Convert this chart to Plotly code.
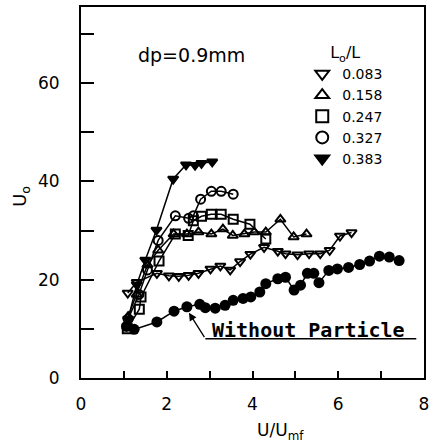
import plotly.graph_objects as go

# ---- data ----
x_083 = [1.09, 1.3, 1.77, 2.05, 2.28, 2.51, 2.74, 3.02, 3.25, 3.48, 3.71, 3.95, 4.27, 4.59, 4.77, 5.05, 5.32, 5.58, 5.8, 6.04, 6.31]
y_083 = [17.3, 19.5, 21.3, 20.8, 20.7, 20.9, 21.3, 22.2, 22.8, 22.0, 23.7, 25.2, 26.6, 25.8, 25.3, 25.1, 25.3, 25.3, 26.0, 28.9, 29.6]

x_158 = [1.1, 1.3, 1.55, 1.8, 2.16, 2.47, 2.74, 3.04, 3.31, 3.54, 3.81, 4.04, 4.31, 4.65, 4.96, 5.26]
y_158 = [12.5, 17.0, 23.0, 26.0, 29.3, 29.3, 29.7, 29.3, 30.3, 29.0, 29.3, 29.7, 29.7, 32.3, 28.7, 29.3]

x_247 = [1.08, 1.36, 1.4, 1.82, 2.2, 2.5, 2.62, 2.81, 3.04, 3.27, 3.55, 3.94, 4.31]
y_247 = [10.0, 14.0, 16.5, 23.8, 29.3, 29.0, 32.0, 32.9, 33.3, 33.3, 32.3, 31.3, 28.3]

x_327 = [1.1, 1.35, 1.55, 1.8, 2.2, 2.51, 2.62, 2.79, 3.04, 3.27, 3.55]
y_327 = [12.0, 17.0, 22.0, 28.0, 33.0, 32.5, 33.0, 36.4, 38.0, 38.0, 37.4]

x_383 = [1.1, 1.3, 1.5, 1.76, 2.15, 2.45, 2.66, 2.81, 3.06]
y_383 = [12.0, 19.0, 24.0, 30.1, 40.5, 43.4, 43.3, 43.7, 44.0]

x_none = [1.06, 1.24, 1.77, 2.17, 2.47, 2.77, 2.9, 3.13, 3.36, 3.55, 3.78, 3.96, 4.17, 4.31, 4.59, 4.77,
          4.97, 5.12, 5.28, 5.43, 5.55, 5.78, 5.98, 6.24, 6.5, 6.73, 6.96, 7.19, 7.42]
y_none = [10.5, 9.9, 11.4, 13.6, 14.5, 15.0, 14.3, 14.2, 14.8, 15.8, 16.2, 16.5, 17.5, 19.2, 20.2, 20.5,
          17.9, 18.9, 21.3, 21.3, 19.4, 21.9, 22.2, 22.5, 23.1, 23.8, 24.8, 24.6, 23.9]

series = [
    ("0.083", x_083, y_083, "triangle-down-open"),
    ("0.158", x_158, y_158, "triangle-up-open"),
    ("0.247", x_247, y_247, "square-open"),
    ("0.327", x_327, y_327, "circle-open"),
    ("0.383", x_383, y_383, "triangle-down"),
]

x_ticks = [0, 1, 2, 3, 4, 5, 6, 7, 8]
x_ticktext = ["0", "", "2", "", "4", "", "6", "", "8"]
y_ticks = [0, 10, 20, 30, 40, 50, 60, 70]
y_ticktext = ["0", "", "20", "", "40", "", "60", ""]

FONT = "DejaVu Sans"
fig = go.Figure()

fig.add_trace(go.Scatter(x=x_none, y=y_none, mode="lines+markers", showlegend=False,
                         line=dict(color="black", width=1.5),
                         marker=dict(symbol="circle", size=11, color="black")))

for name, xs, ys, sym in series:
    fig.add_trace(go.Scatter(x=xs, y=ys, mode="lines", showlegend=False,
                             line=dict(color="black", width=1.5), hoverinfo="skip"))
    fig.add_trace(go.Scatter(x=xs, y=ys, mode="markers", name=name,
                             marker=dict(symbol=sym, size=9, color="black",
                                         line=dict(color="black", width=2))))

fig.update_layout(
    width=434, height=445,
    margin=dict(l=81, r=6, t=5, b=67),
    paper_bgcolor="white", plot_bgcolor="white",
    font=dict(family=FONT, color="black", size=14),
    showlegend=True,
    legend=dict(x=0.645, y=0.918, xanchor="left", yanchor="top",
                bgcolor="rgba(0,0,0,0)", borderwidth=0,
                font=dict(family=FONT, size=14),
                title=dict(text="L<sub>o</sub>/L", side="top center",
                           font=dict(family=FONT, size=16)),
                tracegroupgap=0, itemsizing="constant"),
    xaxis=dict(range=[0, 8], tickvals=x_ticks, ticktext=x_ticktext,
               ticks="inside", ticklen=7, tickwidth=1.5, tickcolor="black",
               showline=True, linewidth=2, linecolor="black", mirror=True,
               showgrid=False, zeroline=False, ticklabelstandoff=10,
               tickfont=dict(family=FONT, size=17)),
    yaxis=dict(range=[0, 75.5], tickvals=y_ticks, ticktext=y_ticktext,
               ticks="inside", ticklen=13, tickwidth=1.5, tickcolor="black",
               showline=True, linewidth=2, linecolor="black", mirror=True,
               showgrid=False, zeroline=False, ticklabelstandoff=16,
               tickfont=dict(family=FONT, size=17)),
)

# text annotations
fig.add_annotation(x=2.58, y=65.7, xref="x", yref="y", text="dp=0.9mm", showarrow=False,
                   xanchor="center", yanchor="middle", font=dict(family=FONT, size=19))
fig.add_annotation(x=3.0, y=9.7, xref="x", yref="y", text="<b>Without Particle</b>", showarrow=False,
                   xanchor="left", yanchor="middle",
                   font=dict(family="DejaVu Sans Mono", size=20))
fig.add_annotation(x=2.48, y=13.8, xref="x", yref="y", ax=2.9, ay=8.0, axref="x", ayref="y",
                   text="", showarrow=True, arrowhead=2, arrowsize=1.2, arrowwidth=1.3,
                   arrowcolor="black", standoff=3)
fig.add_shape(type="line", x0=2.9, y0=8.0, x1=7.82, y1=8.0, xref="x", yref="y",
              line=dict(color="black", width=1.5))

# axis titles (positions given in pixels, converted to paper coords below)
fig.add_annotation(x=6, y=195, xref="paper", yref="paper", text="U<sub>o</sub>", showarrow=False,
                   textangle=-90, font=dict(family=FONT, size=18))
fig.add_annotation(x=257, y=432, xref="paper", yref="paper", text="U/U<sub>mf</sub>", showarrow=False,
                   xanchor="left", yanchor="middle", font=dict(family=FONT, size=17))

for ann in fig.layout.annotations:
    if ann.xref == "paper" and ann.x > 1:
        ann.x = (ann.x - 81) / 347.0
        ann.y = (378 - ann.y) / 373.0

fig.write_html("out.html")
